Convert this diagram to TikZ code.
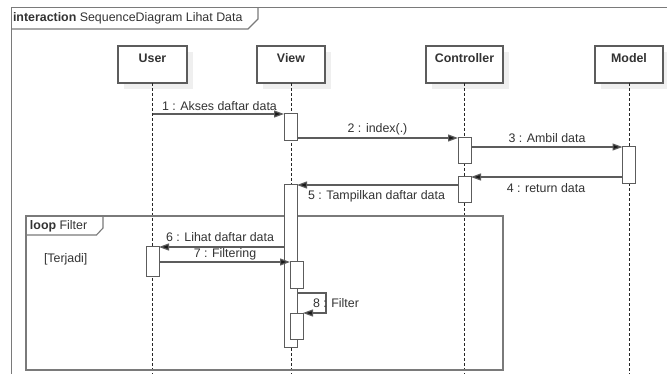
\documentclass[tikz,border=0pt]{standalone}
\usepackage{fontspec}
\setmainfont{Liberation Sans}
\usetikzlibrary{arrows.meta}
\definecolor{ln}{HTML}{5C5C5C}
\definecolor{fr}{HTML}{7A7A7A}
\definecolor{tx}{HTML}{333333}
\definecolor{shd}{HTML}{EFEFEF}
\begin{document}
\begin{tikzpicture}[x=1pt,y=-1pt,
  font=\fontsize{12.4}{14}\selectfont, text=tx,
  head/.style={draw=ln, line width=1.1pt, fill=white, minimum height=37pt, inner sep=0pt, outer sep=0pt,
     text height=9pt, text depth=13pt, font=\fontsize{12.4}{14}\selectfont\bfseries},
  act/.style={draw=ln, line width=1pt, fill=white, minimum width=13pt, inner sep=0pt, outer sep=0pt, anchor=north},
  life/.style={draw=black!85, line width=0.9pt, dash pattern=on 3pt off 2pt},
  msg/.style={draw=ln, line width=1.2pt, -{Triangle[length=10pt,width=7pt,fill=black!90]}},
  frame/.style={draw=fr, line width=1.1pt},
  lbl/.style={inner sep=0pt, outer sep=0pt}]
\useasboundingbox (0,0) rectangle (667,374);
\clip (0,0) rectangle (667,374);
\fill[white] (0,0) rectangle (667,374);
% outer frame
\draw[frame] (11.5,380) -- (11.5,7.5) -- (670,7.5);
\draw[frame] (11.5,29) -- (248,29) -- (258,19) -- (258,7.5);
\node[lbl, anchor=base west] (ttl) at (13,22) {\textbf{interaction} SequenceDiagram Lihat Data};
\coordinate (bot) at (0,380);
% shadows
\foreach \cx/\w in {152.5/69, 291/68, 464.5/77, 629/68}
  \fill[shd] (\cx-\w/2+6, 52) rectangle (\cx+\w/2+6, 89);
% heads
\node[head, minimum width=69pt] (uH) at (152.5,64.5) {User};
\node[head, minimum width=68pt] (vH) at (291,64.5) {View};
\node[head, minimum width=77pt] (cH) at (464.5,64.5) {Controller};
\node[head, minimum width=68pt] (mH) at (629,64.5) {Model};
% lifelines
\draw[life] (uH.south) -- (uH.south |- bot);
\draw[life] (vH.south) -- (vH.south |- bot);
\draw[life] (cH.south) -- (cH.south |- bot);
\draw[life] (mH.south) -- (mH.south |- bot);
% loop frame
\draw[frame] (26,216) rectangle (503,370);
\draw[frame] (26,235) -- (96.5,235) -- (103,228) -- (103,216);
\node[lbl, anchor=base west] (lp) at (30,230) {\textbf{loop} Filter};
\node[lbl, anchor=base west] (grd) at (44,263) {[Terjadi]};
% activations
\node[act, minimum height=27pt] (a1) at (290.5,114) {};
\node[act, minimum height=26pt] (c1) at (464.5,138) {};
\node[act, minimum height=37pt] (m1) at (629,147) {};
\node[act, minimum height=26pt] (c2) at (464.5,177) {};
\node[act, minimum height=162pt] (a2) at (290.5,185) {};
\node[act, minimum height=30pt] (u1) at (152.5,247) {};
\node[act, minimum height=27pt] (a3) at (296.5,262) {};
\node[act, minimum height=26pt] (a4) at (296.5,313) {};
% messages
\draw[msg] (uH.south |- a1.north) -- (a1.north west);
\node[lbl, anchor=base west] (l1) at (162,110.5) {1 : Akses daftar data};
\draw[msg] (a1.east |- c1.north) -- (c1.north west);
\node[lbl, anchor=base] (l2) at (377.5,133) {2 : index(.)};
\draw[msg] (c1.east |- m1.north) -- (m1.north west);
\node[lbl, anchor=base] (l3) at (547,142.5) {3 : Ambil data};
\draw[msg] (m1.west |- c2.north) -- (c2.north east);
\node[lbl, anchor=base] (l4) at (546,193) {4 : return data};
\draw[msg] (c2.west |- a2.north) -- (a2.north east);
\node[lbl, anchor=base west] (l5) at (308,199.5) {5 : Tampilkan daftar data};
\draw[msg] (a2.west |- u1.north) -- (u1.north east);
\node[lbl, anchor=base west] (l6) at (166,242) {6 : Lihat daftar data};
\draw[msg] (u1.east |- a3.north) -- (a3.north west);
\node[lbl, anchor=base] (l7) at (225,257.5) {7 : Filtering};
\coordinate (s8) at (326,293);
\draw[msg] (a2.east |- s8) -- (s8) -- (s8 |- a4.north) -- (a4.north east);
\node[lbl, anchor=base west] (l8) at (313,307) {8 : Filter};
\end{tikzpicture}
\end{document}
